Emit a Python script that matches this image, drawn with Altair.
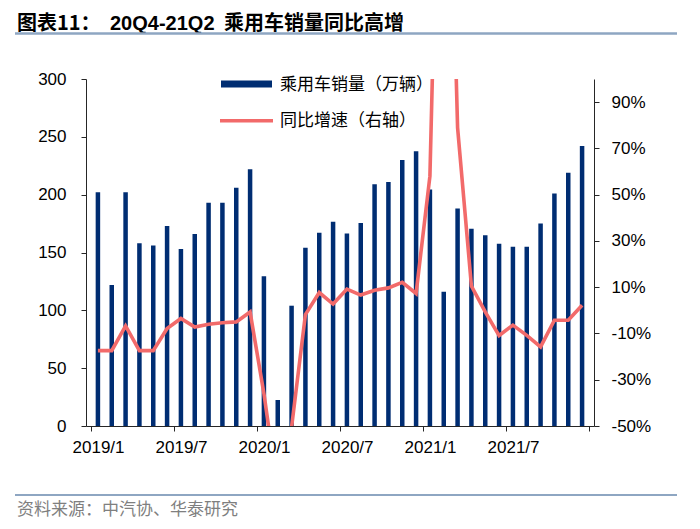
import altair as alt
import pandas as pd

# ---- data ----
months = ["2019/1", "2019/2", "2019/3", "2019/4", "2019/5", "2019/6",
          "2019/7", "2019/8", "2019/9", "2019/10", "2019/11", "2019/12",
          "2020/1", "2020/2", "2020/3", "2020/4", "2020/5", "2020/6",
          "2020/7", "2020/8", "2020/9", "2020/10", "2020/11", "2020/12",
          "2021/1", "2021/2", "2021/3", "2021/4", "2021/5", "2021/6",
          "2021/7", "2021/8", "2021/9", "2021/10", "2021/11", "2021/12"]
sales = [202, 122, 202, 158, 156, 173, 153, 166, 193, 193, 206, 222,
         129.5, 22.5, 104, 154, 167, 176.5, 166.5, 175.5, 209, 211, 230, 237.5,
         204.5, 116, 188, 170.5, 165, 157.5, 155, 155, 175, 201, 219, 242]
yoy = [-17.4, -17.4, -6.7, -17.4, -17.4, -7.9, -3.5, -7.2, -6.0, -5.4, -5.0, -0.7,
       -36, -78, -50.5, -1.8, 7.7, 2.7, 9.2, 6.6, 8.7, 9.7, 12.1, 7.3,
       58, 300, 79, 10.5, -0.7, -10.9, -6.4, -10.8, -15.8, -4.3, -4.3, 2.2]
left_ticks = [0, 50, 100, 150, 200, 250, 300]
right_ticks = [-50, -30, -10, 10, 30, 50, 70, 90]
x_ticks = [0, 6, 12, 18, 24, 30, 36]

title_a = "图表11："
title_b = "20Q4-21Q2"
title_c = "乘用车销量同比高增"
legend_bar = "乘用车销量（万辆）"
legend_line = "同比增速（右轴）"
source = "资料来源：中汽协、华泰研究"

NAVY = "#002D72"
RED = "#F26A6A"
RULE = "#8EA6C2"
AX = "#262626"
LAT = "Liberation Sans"
CJK = "Noto Sans CJK SC"

W, H = 508, 347

df = pd.DataFrame({"month": months, "idx": [i + 0.5 for i in range(len(months))],
                   "sales": sales, "yoy": yoy})

label_arr = "[" + ",".join("'" + m + "'" for m in months) + "]"
x_enc = alt.X("idx:Q",
              scale=alt.Scale(domain=[0, 36], nice=False, zero=False),
              axis=alt.Axis(values=x_ticks, title=None, grid=False,
                            labelExpr=f"datum.value < 36 ? {label_arr}[datum.value] : ''",
                            labelOffset=W / 36 / 2, labelFlush=False, labelOverlap=False,
                            tickSize=5, labelPadding=8, labelFont=LAT, labelFontSize=17,
                            labelColor="#000000", domainColor=AX, tickColor=AX,
                            domainWidth=1, tickWidth=1))

base = alt.Chart(df)
bars = base.mark_bar(size=4.5, color=NAVY).encode(
    x=x_enc,
    y=alt.Y("sales:Q", scale=alt.Scale(domain=[0, 300], nice=False),
            axis=alt.Axis(orient="left", values=left_ticks, title=None, grid=False,
                          tickSize=5, labelPadding=15, labelFont=LAT, labelFontSize=17,
                          labelColor="#000000", domainColor=AX, tickColor=AX)))
line = base.mark_line(color=RED, strokeWidth=3.6, clip=True).encode(
    x=x_enc,
    y=alt.Y("yoy:Q", scale=alt.Scale(domain=[-50, 100], nice=False, zero=False),
            axis=alt.Axis(orient="right", values=right_ticks, title=None, grid=False,
                          labelExpr="datum.value + '%'",
                          tickSize=5, labelPadding=12, labelFont=LAT, labelFontSize=17,
                          labelColor="#000000", domainColor=AX, tickColor=AX)))

one = pd.DataFrame({"k": [0]})
oc = alt.Chart(one)
leg_rect = oc.mark_rect(color=NAVY).encode(
    x=alt.value(135), x2=alt.value(186), y=alt.value(1.5), y2=alt.value(8.5))
leg_rule = oc.mark_rule(color=RED, strokeWidth=3.6).encode(
    x=alt.value(134), x2=alt.value(187), y=alt.value(41.7))
leg_t1 = oc.mark_text(align="left", baseline="middle", font=CJK, fontSize=17,
                      color="#000000").encode(
    x=alt.value(194), y=alt.value(5.5), text=alt.value(legend_bar))
leg_t2 = oc.mark_text(align="left", baseline="middle", font=CJK, fontSize=17,
                      color="#000000").encode(
    x=alt.value(194), y=alt.value(42), text=alt.value(legend_line))

def ttext(s, xv, font, size):
    return oc.mark_text(align="left", baseline="alphabetic", font=font, fontSize=size,
                        fontWeight="bold", color="#000000").encode(
        x=alt.value(xv), y=alt.value(-49), text=alt.value(s))

t1 = ttext(title_a, -69, CJK, 20)
t2 = ttext(title_b, 24, LAT, 20)
t3 = ttext(title_c, 138, CJK, 20)
top_rule = oc.mark_rule(color=RULE, strokeWidth=2.5).encode(
    x=alt.value(-71), x2=alt.value(591), y=alt.value(-45.5))
bot_rule = oc.mark_rule(color=RULE, strokeWidth=2).encode(
    x=alt.value(-71), x2=alt.value(591), y=alt.value(416))
src = oc.mark_text(align="left", baseline="middle", font=CJK, fontSize=17,
                   color="#7F7F7F").encode(
    x=alt.value(-69), y=alt.value(431), text=alt.value(source))

chart = alt.layer(bars, line, leg_rect, leg_rule, leg_t1, leg_t2,
                  t1, t2, t3, top_rule, bot_rule, src).resolve_scale(
    y="independent"
).properties(
    width=W, height=H,
    autosize=alt.AutoSizeParams(type="none"),
    padding={"left": 78, "top": 71, "right": 98, "bottom": 95},
    background="white",
).configure_view(stroke=None)

chart.save("out.html", embed_options={"renderer": "svg", "actions": False})
